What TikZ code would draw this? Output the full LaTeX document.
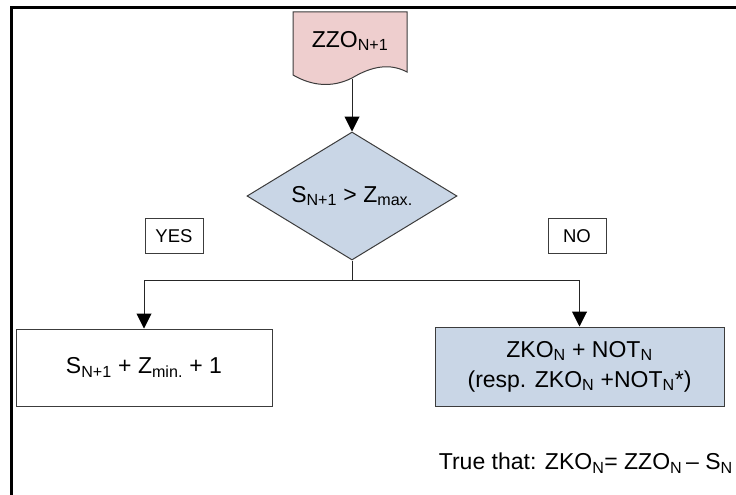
\documentclass[tikz,border=0pt]{standalone}
\usepackage{fontspec}
\setmainfont{Liberation Sans}
\usetikzlibrary{shapes.geometric,arrows.meta}
\definecolor{docpink}{RGB}{238,206,206}
\definecolor{boxblue}{RGB}{201,214,230}
\definecolor{edgegray}{RGB}{60,60,60}
\begin{document}
\begin{tikzpicture}[x=1pt,y=-1pt,
  every node/.style={font=\fontsize{23}{30}\selectfont, inner sep=0pt},
  box/.style={draw=edgegray, line width=1pt, rectangle, align=center},
  lbl/.style={draw=edgegray, line width=0.8pt, rectangle, minimum width=58, minimum height=35, font=\fontsize{18.5}{22}\selectfont},
  conn/.style={draw=black!85, line width=1pt},
  arr/.style={conn, -{Triangle[length=15pt,width=15pt,color=black]}},
  frame/.style={line width=3pt, line join=miter}
]
\useasboundingbox (0,0) rectangle (736,495);
\draw[frame] (11.5,495) -- (11.5,7.5) -- (736,7.5);

% document shape
\draw[edgegray, line width=1pt, fill=docpink] (293,12) -- (407,12) -- (407,72)
  .. controls (390,63) and (372,66) .. (352,78)
  .. controls (332,88) and (312,86) .. (293,75) -- cycle;
\node (doc) at (350,41) {ZZO\textsubscript{N+1}};
\coordinate (docb) at (352,79);

\node[diamond, draw=edgegray, line width=1pt, fill=boxblue, minimum width=210, minimum height=128, aspect=1.64] (dia) at (352,196) {\raisebox{-4pt}{S\textsubscript{N+1} > Z\textsubscript{max.}}};

\node[lbl] (yes) at (174,236) {YES};
\node[lbl] (no) at (577,236) {NO};

\node[box, minimum width=256, minimum height=77] (lbox) at (144,367.5) {S\textsubscript{N+1} + Z\textsubscript{min.} + 1};
\node[box, fill=boxblue, minimum width=289, minimum height=79] (rbox) at (579.5,366.5) {ZKO\textsubscript{N} + NOT\textsubscript{N}\\(resp. ZKO\textsubscript{N} +NOT\textsubscript{N}*)};

\node[anchor=east] (note) at (733,463) {True that: ZKO\textsubscript{N}= ZZO\textsubscript{N}\,-- S\textsubscript{N}};

\coordinate (split) at (352,280.5);
\draw[arr] (docb) -- (dia.north);
\draw[conn] (dia.south) -- (split);
\draw[arr] (split) -| (lbox.north);
\draw[arr] (split) -| (rbox.north);
\end{tikzpicture}
\end{document}
